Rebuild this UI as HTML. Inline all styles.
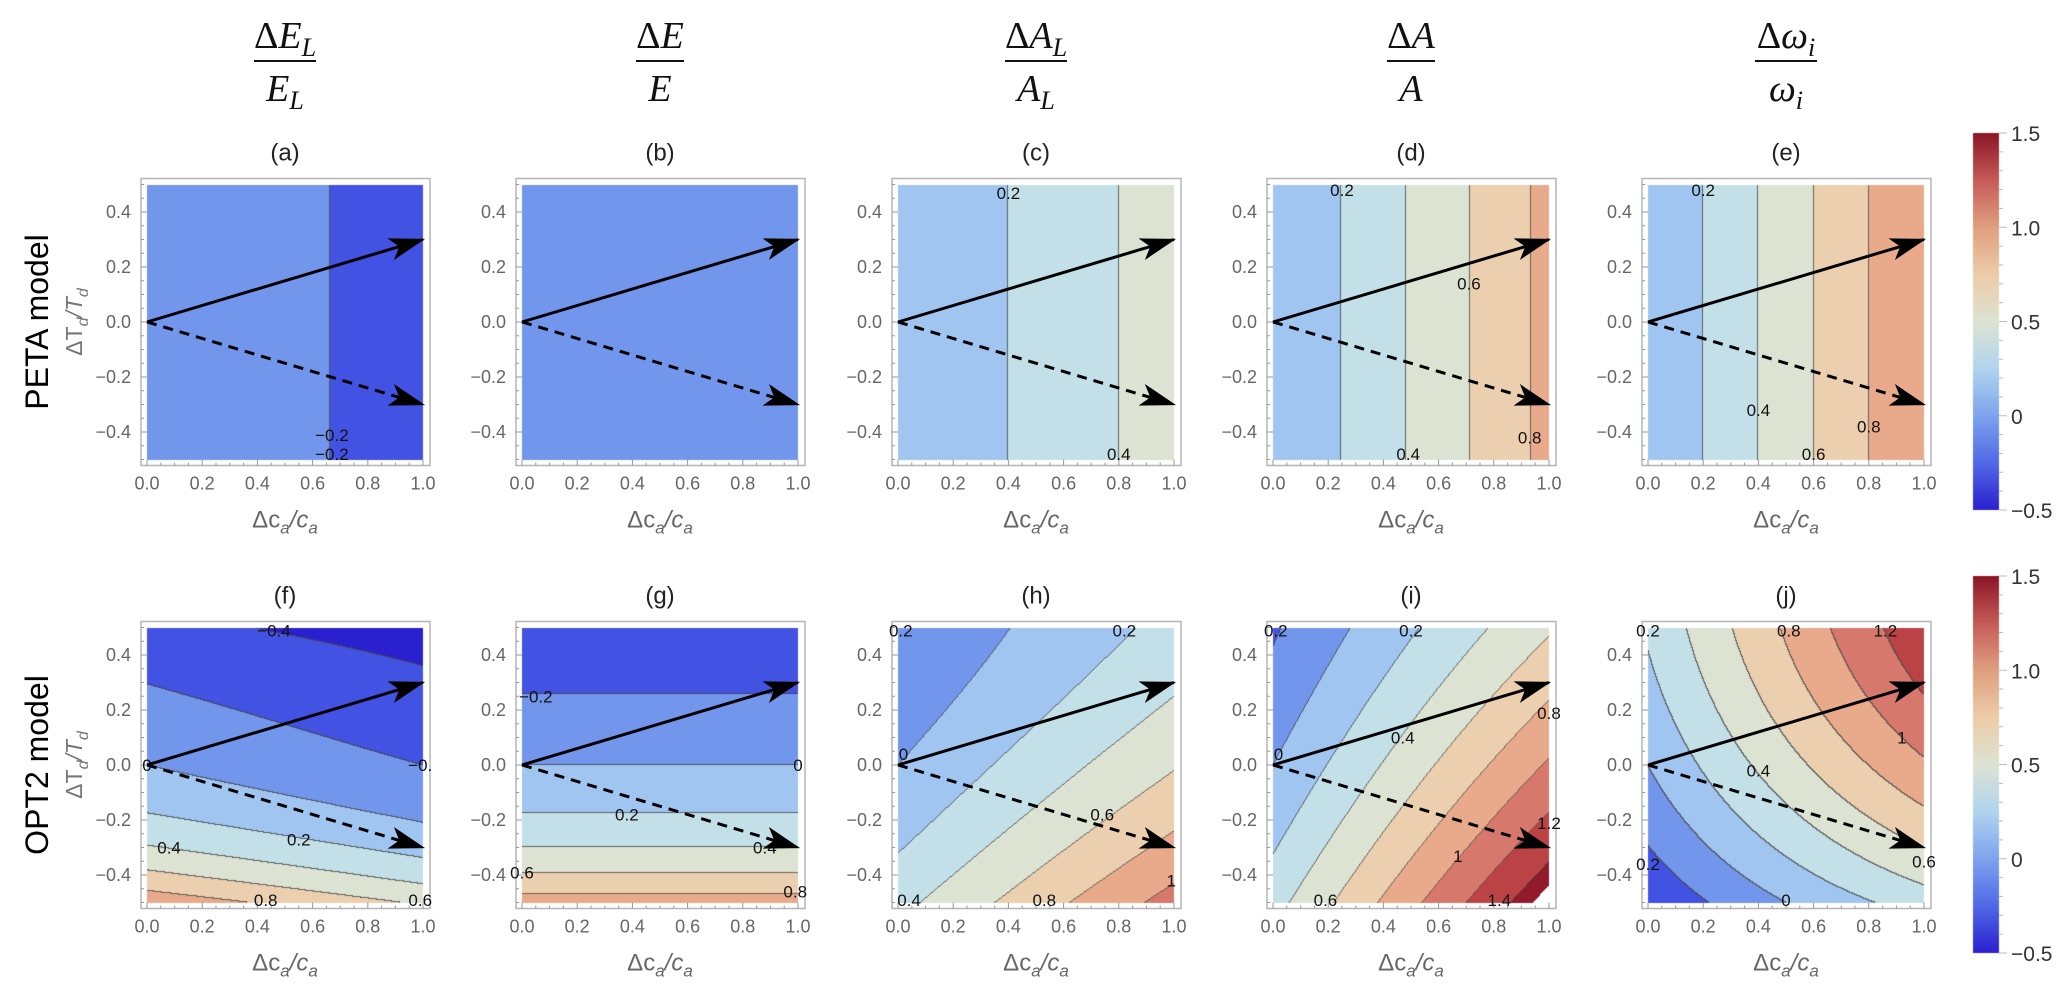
<!DOCTYPE html>
<html><head><meta charset="utf-8"><style>
html,body{margin:0;padding:0;background:#fff;}
#wrap{position:relative;width:2067px;height:994px;overflow:hidden;}
canvas,svg{position:absolute;left:0;top:0;}
</style></head><body>
<div id="wrap">
<canvas id="cv" width="2067" height="994"></canvas>
<svg id="sv" width="2067" height="994" xmlns="http://www.w3.org/2000/svg"></svg>
</div>
<script>
// ---- data ----
const panelIds = ["a","b","c","d","e","f","g","h","i","j"];
// polynomial coefficients over basis [1, x, y, x^2, x*y, y^2, x*y^2, y^3]
const coefA = [-0.001,-0.3,0,0,0,0,0,0];
const coefB = [-0.08,0,0,0,0,0,0,0];
const coefC = [0,0.5,0,0,0,0,0,0];
const coefD = [0,0.8,0,0.06,0,0,0,0];
const coefE = [0,1.0,0,0,0,0,0,0];
const coefF = [0,-0.2,-0.9,0,0.2,1.2,-0.25,-1.5];
const coefG = [0,0,-0.93,0,0,1.0,0,-1.4];
const coefH = [0,0.5835,-0.52,0,-0.30,0.323,0.022,0];
const coefI = [0,1.025,-0.55,0,-0.45,0.2,0,0];
const coefJ = [0,1.12,0.6,-0.15,0.45,-0.3,-0.3,0];
const levelStep = 0.2;
const xTicks = [0,0.2,0.4,0.6,0.8,1.0];
const xTickLabels = ["0.0","0.2","0.4","0.6","0.8","1.0"];
const yTicks = [0.4,0.2,0,-0.2,-0.4];
const yTickLabels = ["0.4","0.2","0.0","\u22120.2","\u22120.4"];
const cbTicks = [1.5,1.0,0.5,0,-0.5];
const cbTickLabels = ["1.5","1.0","0.5","0","\u22120.5"];
const arrowSolidEnd = [1,0.3];
const arrowDashEnd = [1,-0.3];
const labelsA = [["\u22120.2",0.67,-0.41],["\u22120.2",0.67,-0.48]];
const labelsB = [];
const labelsC = [["0.2",0.4,0.47],["0.4",0.8,-0.48]];
const labelsD = [["0.2",0.25,0.48],["0.6",0.71,0.14],["0.4",0.49,-0.48],["0.8",0.93,-0.42]];
const labelsE = [["0.2",0.2,0.48],["0.4",0.4,-0.32],["0.6",0.6,-0.48],["0.8",0.8,-0.38]];
const labelsF = [["\u22120.4",0.46,0.49],["0",0,0],["\u22120.",0.99,0],["0.2",0.55,-0.27],["0.4",0.08,-0.3],["0.8",0.43,-0.49],["0.6",0.99,-0.49]];
const labelsG = [["\u22120.2",0.05,0.25],["0",1,0],["0.2",0.38,-0.18],["0.4",0.88,-0.3],["0.6",0.0,-0.39],["0.8",0.99,-0.46]];
const labelsH = [["0.2",0.01,0.49],["0.2",0.82,0.49],["0",0.02,0.04],["0.6",0.74,-0.18],["0.4",0.04,-0.49],["0.8",0.53,-0.49],["1",0.99,-0.42]];
const labelsI = [["0.2",0.01,0.49],["0.2",0.5,0.49],["0",0.02,0.04],["0.4",0.47,0.1],["0.8",1,0.19],["1.2",1,-0.21],["1",0.67,-0.33],["0.6",0.19,-0.49],["1.4",0.82,-0.49]];
const labelsJ = [["0.2",0,0.49],["0.8",0.51,0.49],["1.2",0.86,0.49],["1",0.92,0.1],["0.4",0.4,-0.02],["0.2",0,-0.36],["0",0.5,-0.49],["0.6",1,-0.35]];
const headers = [["E","L"],["E",""],["A","L"],["A",""],["\u03c9","i"]];
</script>
<script>
const coefs=[coefA,coefB,coefC,coefD,coefE,coefF,coefG,coefH,coefI,coefJ];
const labels=[labelsA,labelsB,labelsC,labelsD,labelsE,labelsF,labelsG,labelsH,labelsI,labelsJ];
const X0=[147,522,898,1273,1648], W=276, H=275, YT=[184.5,627.5];
const bandStops=[[-0.5,[42,32,208]],[-0.3,[66,82,226]],[-0.1,[113,150,236]],[0.1,[160,197,240]],[0.3,[195,224,232]],[0.5,[220,227,210]],[0.7,[236,207,174]],[0.9,[232,170,138]],[1.1,[215,120,108]],[1.3,[187,67,70]],[1.5,[145,26,43]]];
function cmap(v){
  if(v<=bandStops[0][0])return bandStops[0][1];
  for(let i=1;i<bandStops.length;i++){if(v<=bandStops[i][0]){const a=bandStops[i-1],b=bandStops[i];const t=(v-a[0])/(b[0]-a[0]);return a[1].map((c,k)=>Math.round(c+(b[1][k]-c)*t));}}
  return bandStops[bandStops.length-1][1];
}
function field(c,x,y){return c[0]+c[1]*x+c[2]*y+c[3]*x*x+c[4]*x*y+c[5]*y*y+c[6]*x*y*y+c[7]*y*y*y;}
const cv=document.getElementById('cv'),ctx=cv.getContext('2d');
const img=ctx.createImageData(2067,994);
for(let p=0;p<10;p++){
  const col=p%5,row=Math.floor(p/5),x0=X0[col],yt=Math.round(YT[row]);
  const band=new Array(W*H);
  for(let j=0;j<H;j++)for(let i=0;i<W;i++){
    const x=(i+0.5)/W,y=0.5-(j+0.5)/H;const f=field(coefs[p],x,y);
    band[j*W+i]= f>1.5?999:Math.floor(f/levelStep);
  }
  for(let j=0;j<H;j++)for(let i=0;i<W;i++){
    const b=band[j*W+i];let rgb;
    if(b===999)rgb=[255,255,255];else rgb=cmap(b*levelStep+levelStep/2);
    const edge=(i<W-1&&band[j*W+i+1]!==b)||(j<H-1&&band[(j+1)*W+i]!==b);
    if(edge&&b!==999&&(i<W-1?band[j*W+i+1]!==999:true)&&(j<H-1?band[(j+1)*W+i]!==999:true))rgb=rgb.map(c=>Math.round(c*0.2+70*0.8));
    const k=((yt+j)*2067+(x0+i))*4;img.data[k]=rgb[0];img.data[k+1]=rgb[1];img.data[k+2]=rgb[2];img.data[k+3]=255;
  }
}
ctx.putImageData(img,0,0);
function cmapCont(v){const s=[[-0.5,[43,31,208]],[-0.25,[80,104,230]],[0,[125,163,238]],[0.25,[176,212,238]],[0.5,[221,227,211]],[0.75,[237,204,168]],[1.0,[224,160,128]],[1.25,[198,92,88]],[1.5,[140,22,40]]];
  for(let i=1;i<s.length;i++){if(v<=s[i][0]){const a=s[i-1],b=s[i];const t=Math.max(0,(v-a[0])/(b[0]-a[0]));return a[1].map((c,k)=>Math.round(c+(b[1][k]-c)*t));}}return s[s.length-1][1];}
for(let r=0;r<2;r++){
  const top=133+r*443,bot=510+r*443;
  for(let y=top;y<bot;y++){const v=1.5-(y-top)/(bot-top)*2;const c=cmapCont(v);ctx.fillStyle='rgb('+c.join(',')+')';ctx.fillRect(1973,y,26,1);}
}

const NS="http://www.w3.org/2000/svg",sv=document.getElementById('sv');
function el(tag,attrs,parent){const e=document.createElementNS(NS,tag);for(const k in attrs)e.setAttribute(k,attrs[k]);(parent||sv).appendChild(e);return e;}
const defs=el('defs',{});
const mk=el('marker',{id:'ah',viewBox:'0 0 16 10',refX:'15',refY:'5',markerWidth:'36',markerHeight:'22.5',markerUnits:'userSpaceOnUse',orient:'auto'},defs);
el('path',{d:'M0,0 L16,5 L0,10 L4,5 Z',fill:'#000'},mk);
const ids="abcdefghij";
for(let p=0;p<10;p++){
  const col=p%5,row=Math.floor(p/5),x0=X0[col],yt=YT[row];
  const sx=x=>x0+x*W, sy=y=>yt+(0.5-y)*H;
  const g=el('g',{});
  
  
  const fr=el('rect',{x:x0-6,y:yt-6,width:W+13,height:H+12,fill:'none',stroke:'#b5b5b5','stroke-width':1.5},g);
  
  
  for(let t=0;t<=20;t++){const x=sx(t/20),len=t%4===0?6:3;el('line',{x1:x,x2:x,y1:yt+H+6,y2:yt+H+6-len,stroke:'#999','stroke-width':1},g);}
  for(let t=0;t<=20;t++){const y=sy(0.5-t/20),len=(t%4===2)?6:3;el('line',{x1:x0-6,x2:x0-6+len,y1:y,y2:y,stroke:'#999','stroke-width':1},g);}
  xTicks.forEach((v,i)=>{const t=el('text',{x:sx(v),y:yt+H+30,'text-anchor':'middle','font-size':18,fill:'#666','font-family':'Liberation Sans, sans-serif'},g);t.textContent=xTickLabels[i];
    });
  yTicks.forEach((v,i)=>{const t=el('text',{x:x0-16,y:sy(v)+6,'text-anchor':'end','font-size':18,fill:'#666','font-family':'Liberation Sans, sans-serif'},g);t.textContent=yTickLabels[i];
    });
  const xt=el('text',{x:sx(0.5),y:yt+H+68,'text-anchor':'middle','font-size':24,fill:'#666','font-family':'Liberation Sans, sans-serif'},g);
  xt.innerHTML='\u0394c<tspan font-size="17" dy="6" font-style="italic">a</tspan><tspan dy="-6" font-style="italic">/c</tspan><tspan font-size="17" dy="6" font-style="italic">a</tspan>';
  
  const tt=el('text',{x:sx(0.5),y:yt-24,'text-anchor':'middle','font-size':24,fill:'#222','font-family':'Liberation Sans, sans-serif'},g);
  tt.textContent='('+ids[p]+')';
  labels[p].forEach(l=>{const t=el('text',{x:sx(l[1]),y:sy(l[2])+6,'text-anchor':'middle','font-size':17,fill:'#111','font-family':'Liberation Sans, sans-serif'},g);t.textContent=l[0];
    });
  const a1=el('line',{x1:sx(0),y1:sy(0),x2:sx(arrowSolidEnd[0]),y2:sy(arrowSolidEnd[1]),stroke:'#000','stroke-width':3,'marker-end':'url(#ah)'},g);
  
  const a2=el('line',{x1:sx(0),y1:sy(0),x2:sx(arrowDashEnd[0]),y2:sy(arrowDashEnd[1]),stroke:'#000','stroke-width':3,'stroke-dasharray':'10 7','marker-end':'url(#ah)'},g);
  
  if(col===0){
    const cy=sy(0);
    const yl=el('text',{x:0,y:0,transform:'translate(82,'+cy+') rotate(-90)','text-anchor':'middle','font-size':23,fill:'#777','font-family':'Liberation Sans, sans-serif'},g);
    yl.innerHTML='\u0394T<tspan font-size="16" dy="6" font-style="italic">d</tspan><tspan dy="-6" font-style="italic">/T</tspan><tspan font-size="16" dy="6" font-style="italic">d</tspan>';
    
    const rl=el('text',{x:0,y:0,transform:'translate(48,'+cy+') rotate(-90)','text-anchor':'middle','font-size':32,fill:'#000','font-family':'Liberation Sans, sans-serif'},g);
    rl.textContent=row===0?'PETA model':'OPT2 model';
    
  }
}
headers.forEach((h,i)=>{
  const cx=X0[i]+W/2;
  const g=el('g',{});
  
  
  const n=el('text',{x:cx,y:48,'text-anchor':'middle','font-size':38,fill:'#111','font-family':'Liberation Serif, serif','font-style':'italic'},g);
  n.innerHTML='<tspan font-style="normal">\u0394</tspan>'+h[0]+(h[1]?'<tspan font-size="26" dy="8">'+h[1]+'</tspan>':'');
  const bw=h[1]?62:48;
  el('line',{x1:cx-bw/2,x2:cx+bw/2,y1:61,y2:61,stroke:'#111','stroke-width':2},g);
  const d=el('text',{x:cx,y:101,'text-anchor':'middle','font-size':38,fill:'#111','font-family':'Liberation Serif, serif','font-style':'italic'},g);
  d.innerHTML=h[0]+(h[1]?'<tspan font-size="26" dy="8">'+h[1]+'</tspan>':'');
});
for(let r=0;r<2;r++){
  const top=133+r*443,bot=510+r*443;
  const g=el('g',{});
  
  
  for(let k=0;k<=20;k++){const y=top+(bot-top)*k/20;el('line',{x1:1999,x2:k%5===0?2007:2003,y1:y,y2:y,stroke:'#bbb','stroke-width':1},g);}
  cbTicks.forEach((v,i)=>{const y=top+(1.5-v)/2*(bot-top);const t=el('text',{x:2011,y:y+8,'font-size':21,fill:'#333','font-family':'Liberation Sans, sans-serif'},g);t.textContent=cbTickLabels[i];
    });
}
</script>
</body></html>
